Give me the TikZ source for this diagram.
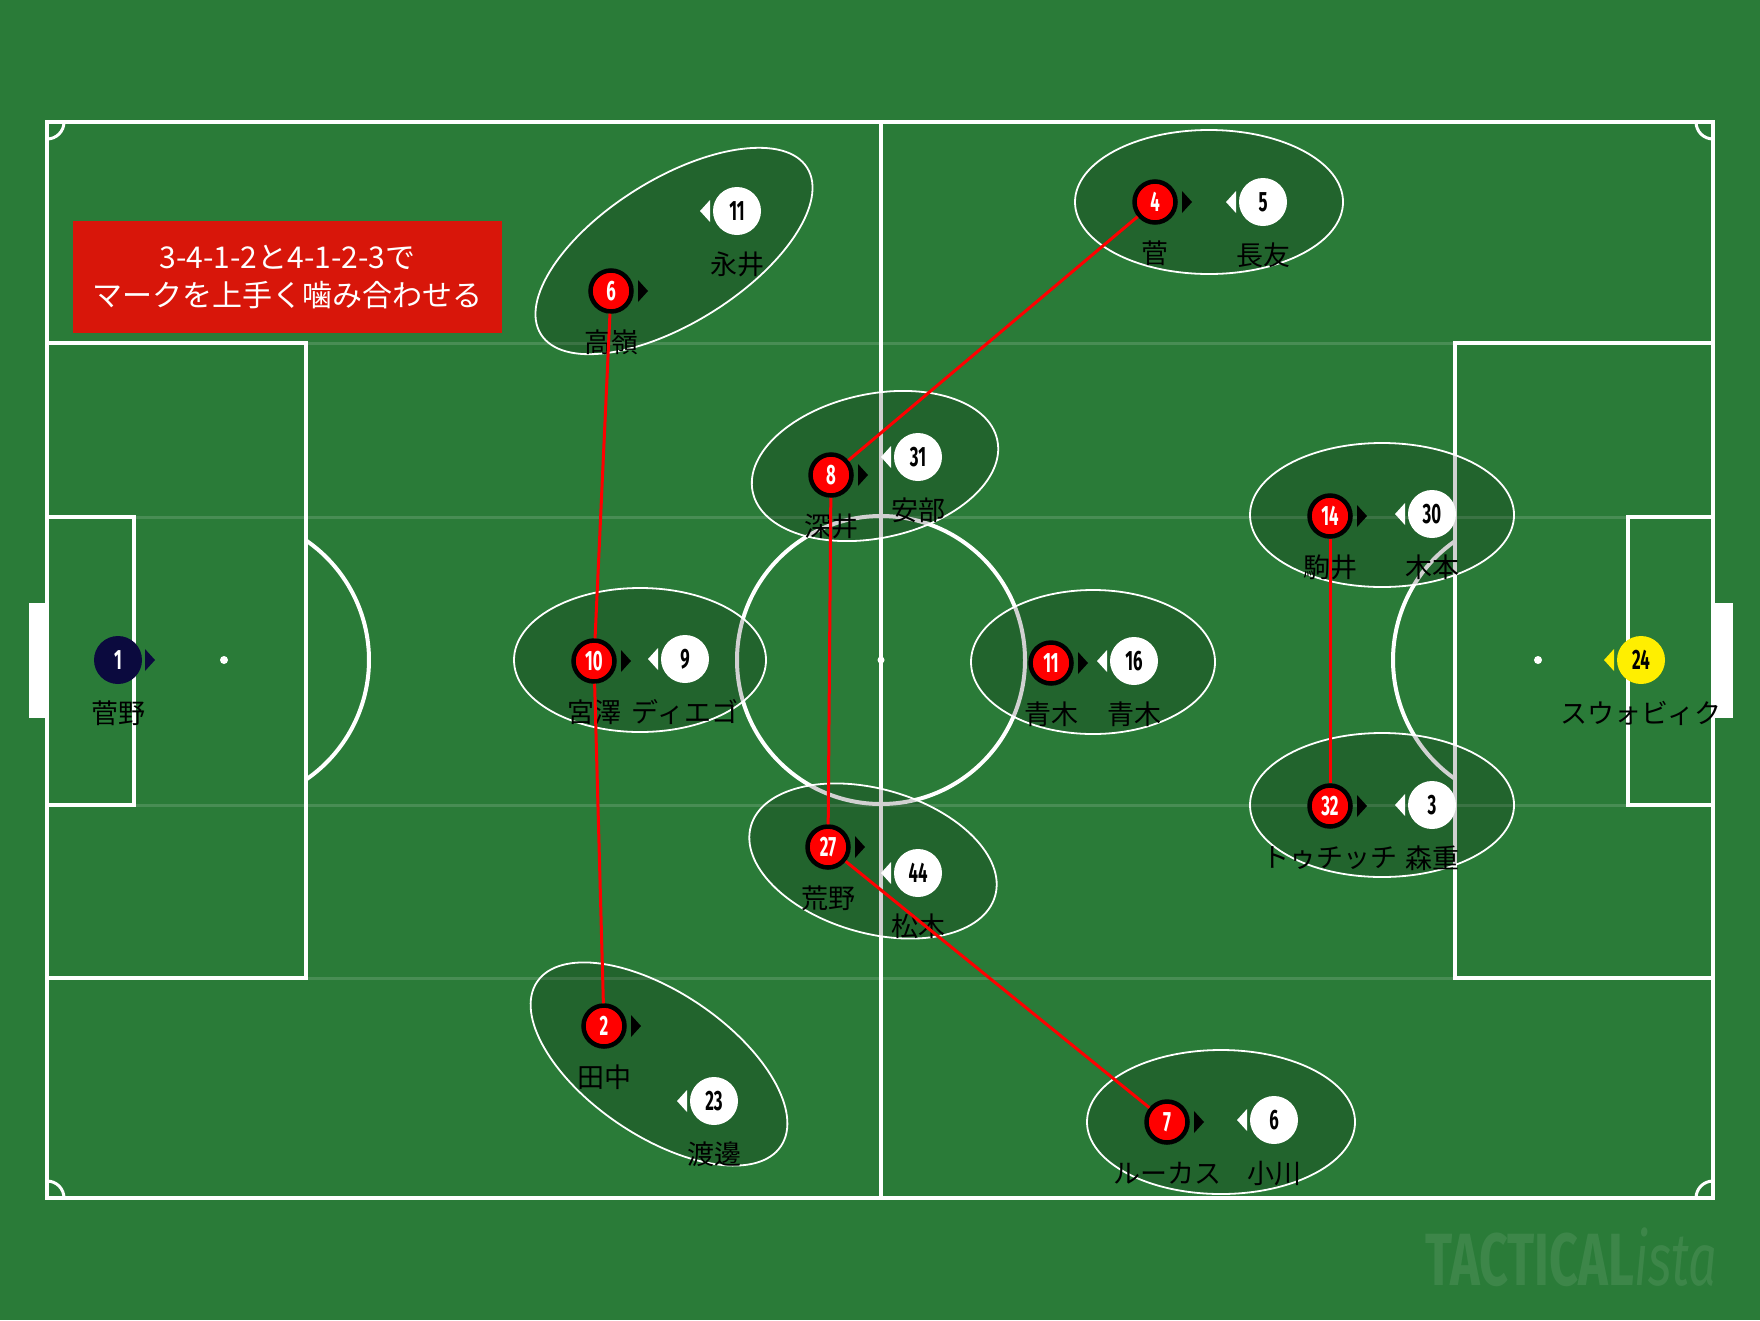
\documentclass[tikz,border=0pt]{standalone}
\usepackage{fontspec}
\setmainfont{Noto Sans CJK JP}
\newfontfamily\numfont[FakeStretch=0.6]{Fira Sans}
\newfontfamily\brandfont[FakeStretch=0.68]{Fira Sans}
\usetikzlibrary{positioning}

\definecolor{turf}{HTML}{2A7B38}
\definecolor{bannerred}{HTML}{D8160A}
\definecolor{keepernavy}{HTML}{0B0A3E}
\definecolor{keeperyellow}{HTML}{FFEF00}

\tikzset{
  pitchline/.style={draw=white, line width=4pt},
  fadeline/.style={draw=white, draw opacity=0.14, line width=3pt},
  pairring/.style={fill=black, fill opacity=0.18, draw=white, line width=1.8pt},
  disc/.style={circle, inner sep=0pt, font=\numfont\bfseries\fontsize{28}{28}\selectfont},
  redpl/.style={disc, fill=red, draw=black, line width=4.5pt, minimum size=41pt, text=white},
  whitepl/.style={disc, fill=white, minimum size=48pt, text=black},
  plname/.style={inner sep=0pt, text height=22pt, text depth=4pt, font=\fontsize{27}{27}\selectfont},
  titlebox/.style={fill=bannerred, text=white, minimum width=429pt, minimum height=112pt, align=center, font=\fontsize{30}{38}\selectfont},
  link/.style={draw=red, line width=3pt},
}

\newcommand\tipright[2]{\fill[#2] ([shift={(27pt,11pt)}]#1.center) -- ++(10pt,-11pt) -- ++(-10pt,-11pt) -- cycle;}
\newcommand\tipleft[2]{\fill[#2] ([shift={(-27pt,11pt)}]#1.center) -- ++(-10pt,-11pt) -- ++(10pt,-11pt) -- cycle;}

\begin{document}
\begin{tikzpicture}[x=1pt, y=-1pt]
  % 芝
  \fill[turf] (0,0) rectangle (1760,1320);
  \foreach \gy in {343,517,805,978}
    \draw[fadeline] (47,\gy) -- (1713,\gy);

  % ピッチのライン
  \draw[pitchline] (47,122) rectangle (1713,1198);
  \draw[pitchline] (881,122) -- (881,1198);
  \draw[pitchline] (881,660) circle (144);
  \fill[white] (881,660) circle (3.5);
  \draw[pitchline] (47,343) rectangle (306,978);
  \draw[pitchline] (47,517) rectangle (134,805);
  \draw[pitchline] (1455,343) rectangle (1713,978);
  \draw[pitchline] (1628,517) rectangle (1713,805);
  \fill[white] (224,660) circle (4);
  \fill[white] (1538,660) circle (4);
  \draw[pitchline] (224,660) ++(-55.5:145) arc[start angle=-55.5, end angle=55.5, radius=145];
  \draw[pitchline] (1538,660) ++(124.5:145) arc[start angle=124.5, end angle=235.5, radius=145];
  \fill[white] (29,603) rectangle (47,718);
  \fill[white] (1713,603) rectangle (1733,718);
  % コーナー
  \draw[pitchline, line width=3pt] (64,122) arc[start angle=0, end angle=90, radius=17];
  \draw[pitchline, line width=3pt] (1713,139) arc[start angle=90, end angle=180, radius=17];
  \draw[pitchline, line width=3pt] (64,1198) arc[start angle=0, end angle=-90, radius=17];
  \draw[pitchline, line width=3pt] (1696,1198) arc[start angle=180, end angle=270, radius=17];

  % タイトル
  \node[titlebox] (title) at (287.5,277) {3-4-1-2と4-1-2-3で\\マークを上手く噛み合わせる};

  % マッチアップの楕円
  \foreach \cx/\cy/\tilt/\rx in {674/251/32/157, 1209/202/0/134, 875/466/12/125,
      640/660/0/126, 1093/662/0/122, 873/861/-16/127, 659/1064/-34/147,
      1221/1122/0/134, 1382/515/0/132, 1382/805/0/132}
    \draw[pairring, rotate around={\tilt:(\cx,\cy)}] (\cx,\cy) ellipse[x radius=\rx, y radius=72];

  % 札幌
  \foreach \id/\px/\py/\who in {6/611/291/高嶺, 4/1155/202/菅, 8/831/475/深井,
      10/594/661/宮澤, 11/1051/663/青木, 27/828/847/荒野, 2/604/1026/田中,
      7/1167/1122/ルーカス, 14/1330/516/駒井, 32/1330/806/トゥチッチ}
  {
    \node[redpl] (r\id) at (\px,\py) {\id};
    \node[plname, below=17pt of r\id] (r\id-n) {\who};
    \tipright{r\id}{black}
  }
  \node[disc, fill=keepernavy, minimum size=48pt, text=white] (g1) at (118,660) {1};
  \node[plname, below=17pt of g1] (g1-n) {菅野};
  \tipright{g1}{keepernavy}

  % FC東京
  \foreach \id/\px/\py/\who in {11/737/211/永井, 5/1263/202/長友, 31/918/457/安部,
      9/685/659/ディエゴ, 16/1134/661/青木, 44/918/873/松木, 23/714/1101/渡邊,
      6/1274/1120/小川, 30/1432/514/木本, 3/1432/805/森重}
  {
    \node[whitepl] (w\id) at (\px,\py) {\id};
    \node[plname, below=17pt of w\id] (w\id-n) {\who};
    \tipleft{w\id}{white}
  }
  \node[disc, fill=keeperyellow, minimum size=48pt, text=black] (g24) at (1641,660) {24};
  \node[plname, below=17pt of g24] (g24-n) {スウォビィク};
  \tipleft{g24}{keeperyellow}

  % マークの連携
  \foreach \from/\to in {6/10, 10/2, 4/8, 8/27, 27/7, 14/32}
    \draw[link] (r\from) -- (r\to);

  \node[anchor=base east, text=white, text opacity=0.09, inner sep=0pt,
    font=\brandfont\fontsize{74}{74}\selectfont] (brand) at (1717,1285)
    {\bfseries TACTICAL\mdseries\itshape ista};
\end{tikzpicture}
\end{document}
